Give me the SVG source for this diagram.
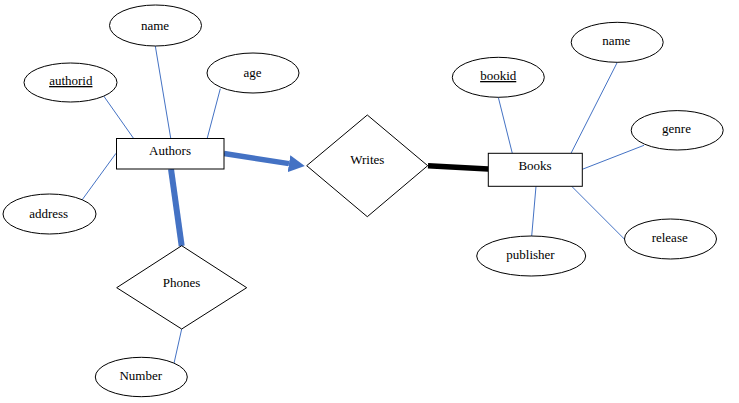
<svg xmlns="http://www.w3.org/2000/svg" width="739" height="403" viewBox="0 0 739 403">
<style>
  .shape { fill: #ffffff; stroke: #000000; stroke-width: 1; }
  .attr-link { stroke: #4472C4; stroke-width: 1; fill: none; }
  .label { font-family: "Liberation Serif", "Times New Roman", serif; font-size: 13px; fill: #000000; text-anchor: middle; }
  .key { text-decoration: underline; }
</style>
<defs>
  <marker id="arrow-blue" viewBox="0 0 16 17" markerWidth="16" markerHeight="17" markerUnits="userSpaceOnUse" refX="0" refY="8.5" orient="auto">
    <path d="M0,0 L16,8.5 L0,17 Z" fill="#4472C4"/>
  </marker>
</defs>
<rect width="739" height="403" fill="#ffffff"/>

<g id="connectors">
  <line class="attr-link" x1="103.7" y1="96" x2="133.3" y2="138"/>
  <line class="attr-link" x1="155.3" y1="46" x2="170.7" y2="138"/>
  <line class="attr-link" x1="220.3" y1="88.7" x2="207.3" y2="138"/>
  <line class="attr-link" x1="116" y1="153.3" x2="82" y2="200"/>
  <line class="attr-link" x1="181.7" y1="329" x2="174" y2="363.3"/>
  <line class="attr-link" x1="498.3" y1="97.3" x2="512.3" y2="153.3"/>
  <line class="attr-link" x1="617.3" y1="62.3" x2="571" y2="153.3"/>
  <line class="attr-link" x1="644" y1="145.3" x2="582.3" y2="169.3"/>
  <line class="attr-link" x1="571.7" y1="186.3" x2="624.3" y2="239"/>
  <line class="attr-link" x1="536" y1="186.3" x2="531.7" y2="236"/>
  <line x1="224" y1="153.5" x2="289" y2="163.6" stroke="#4472C4" stroke-width="5.5" marker-end="url(#arrow-blue)"/>
  <line x1="171" y1="169" x2="181.7" y2="246" stroke="#4472C4" stroke-width="6"/>
  <line x1="428" y1="165.7" x2="488.3" y2="169" stroke="#000000" stroke-width="5.5"/>
</g>

<g id="authors">
  <rect class="shape" x="116.5" y="138.5" width="107.5" height="30.5"/>
  <text class="label" x="170" y="155">Authors</text>
</g>
<g id="author-name">
  <ellipse class="shape" cx="155.5" cy="25.5" rx="46" ry="20.5"/>
  <text class="label" x="155" y="29.5">name</text>
</g>
<g id="author-authorid">
  <ellipse class="shape" cx="70.5" cy="82.5" rx="46.5" ry="19.5"/>
  <text class="label key" x="70.8" y="85">authorid</text>
</g>
<g id="author-age">
  <ellipse class="shape" cx="253" cy="73" rx="46" ry="20"/>
  <text class="label" x="252.5" y="76.5">age</text>
</g>
<g id="author-address">
  <ellipse class="shape" cx="49.5" cy="214" rx="46.5" ry="20"/>
  <text class="label" x="48.7" y="217.7">address</text>
</g>

<g id="writes">
  <polygon class="shape" points="306.7,165.7 367.3,115 427.7,165.7 367.3,216.7"/>
  <text class="label" x="367.3" y="164.3">Writes</text>
</g>

<g id="phones">
  <polygon class="shape" points="116.7,287.7 181.7,245.7 246.7,287.7 181.7,329"/>
  <text class="label" x="181.5" y="287.3">Phones</text>
</g>
<g id="phone-number">
  <ellipse class="shape" cx="141.3" cy="377" rx="46" ry="19.7"/>
  <text class="label" x="140.8" y="380.3">Number</text>
</g>

<g id="books">
  <rect class="shape" x="488.3" y="153.3" width="94" height="33"/>
  <text class="label" x="535" y="170">Books</text>
</g>
<g id="book-bookid">
  <ellipse class="shape" cx="498.3" cy="77.3" rx="46" ry="20"/>
  <text class="label key" x="498.2" y="80">bookid</text>
</g>
<g id="book-name">
  <ellipse class="shape" cx="617.2" cy="42.3" rx="46" ry="20"/>
  <text class="label" x="616.3" y="45">name</text>
</g>
<g id="book-genre">
  <ellipse class="shape" cx="677.2" cy="130.3" rx="46" ry="19.7"/>
  <text class="label" x="676.5" y="133.3">genre</text>
</g>
<g id="book-release">
  <ellipse class="shape" cx="670.5" cy="239" rx="46" ry="20"/>
  <text class="label" x="669.7" y="242.3">release</text>
</g>
<g id="book-publisher">
  <ellipse class="shape" cx="531.2" cy="256" rx="54.5" ry="20"/>
  <text class="label" x="530.5" y="259">publisher</text>
</g>
</svg>
